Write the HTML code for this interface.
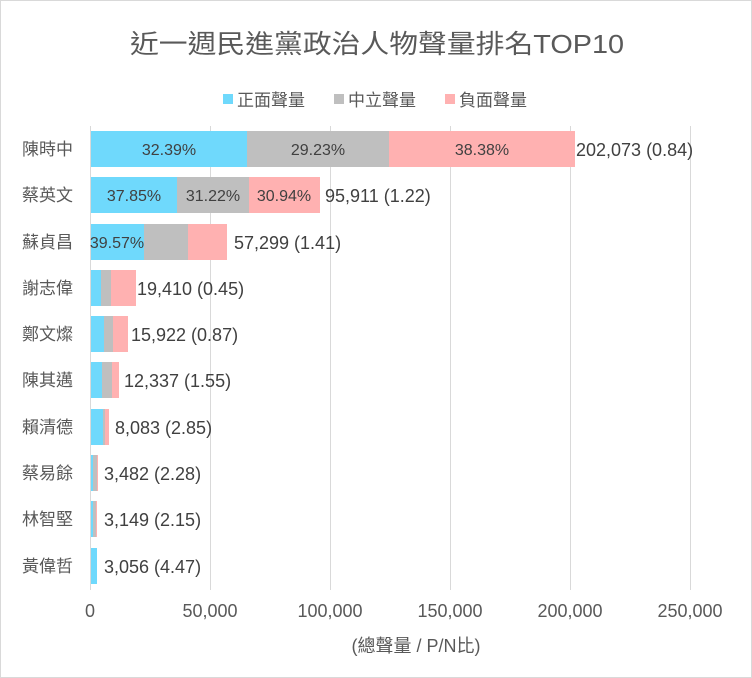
<!DOCTYPE html>
<html><head><meta charset="utf-8"><style>
html,body{margin:0;padding:0;background:#fff;}
svg{display:block;font-family:"Liberation Sans","Noto Sans CJK TC",sans-serif;}
</style></head><body>
<svg width="752" height="678" viewBox="0 0 752 678" xmlns="http://www.w3.org/2000/svg">
<rect x="0.5" y="0.5" width="751" height="677" fill="#fff" stroke="#d9d9d9"/>
<text x="377" y="53" text-anchor="middle" font-size="26" fill="#595959" textLength="494" lengthAdjust="spacingAndGlyphs">近一週民進黨政治人物聲量排名TOP10</text>
<g font-size="17" fill="#595959">
<rect x="223" y="94" width="10" height="10" fill="#6fd9fc"/><text x="237" y="106">正面聲量</text>
<rect x="334" y="94" width="10" height="10" fill="#bfbfbf"/><text x="348" y="106">中立聲量</text>
<rect x="445" y="94" width="10" height="10" fill="#ffb1b1"/><text x="459" y="106">負面聲量</text>
</g>
<g stroke="#d9d9d9" stroke-width="1">
<line x1="210.5" y1="126" x2="210.5" y2="590"/>
<line x1="330.5" y1="126" x2="330.5" y2="590"/>
<line x1="450.5" y1="126" x2="450.5" y2="590"/>
<line x1="570.5" y1="126" x2="570.5" y2="590"/>
<line x1="690.5" y1="126" x2="690.5" y2="590"/>
<line x1="90.5" y1="126" x2="90.5" y2="590"/>
</g>
<g>
<rect x="91" y="131" width="156" height="36" fill="#6fd9fc"/>
<rect x="247" y="131" width="142" height="36" fill="#bfbfbf"/>
<rect x="389" y="131" width="186" height="36" fill="#ffb1b1"/>
<rect x="91" y="177" width="86" height="36" fill="#6fd9fc"/>
<rect x="177" y="177" width="72" height="36" fill="#bfbfbf"/>
<rect x="249" y="177" width="71" height="36" fill="#ffb1b1"/>
<rect x="91" y="224" width="53" height="36" fill="#6fd9fc"/>
<rect x="144" y="224" width="44" height="36" fill="#bfbfbf"/>
<rect x="188" y="224" width="39" height="36" fill="#ffb1b1"/>
<rect x="91" y="270" width="10" height="36" fill="#6fd9fc"/>
<rect x="101" y="270" width="10" height="36" fill="#bfbfbf"/>
<rect x="111" y="270" width="25" height="36" fill="#ffb1b1"/>
<rect x="91" y="316" width="13" height="36" fill="#6fd9fc"/>
<rect x="104" y="316" width="9" height="36" fill="#bfbfbf"/>
<rect x="113" y="316" width="15" height="36" fill="#ffb1b1"/>
<rect x="91" y="362" width="11" height="36" fill="#6fd9fc"/>
<rect x="102" y="362" width="10" height="36" fill="#bfbfbf"/>
<rect x="112" y="362" width="7" height="36" fill="#ffb1b1"/>
<rect x="91" y="409" width="12" height="36" fill="#6fd9fc"/>
<rect x="103" y="409" width="2" height="36" fill="#bfbfbf"/>
<rect x="105" y="409" width="4" height="36" fill="#ffb1b1"/>
<rect x="91" y="455" width="2" height="36" fill="#6fd9fc"/>
<rect x="93" y="455" width="4" height="36" fill="#bfbfbf"/>
<rect x="97" y="455" width="1" height="36" fill="#ffb1b1"/>
<rect x="91" y="501" width="2" height="36" fill="#6fd9fc"/>
<rect x="93" y="501" width="3" height="36" fill="#bfbfbf"/>
<rect x="96" y="501" width="1" height="36" fill="#ffb1b1"/>
<rect x="91" y="548" width="6" height="36" fill="#6fd9fc"/>
</g>
<g font-size="16" fill="#404040" text-anchor="middle">
<text x="169" y="155">32.39%</text>
<text x="318" y="155">29.23%</text>
<text x="482" y="155">38.38%</text>
<text x="134" y="201">37.85%</text>
<text x="213" y="201">31.22%</text>
<text x="284" y="201">30.94%</text>
<text x="117" y="248">39.57%</text>
</g>
<g font-size="18" fill="#404040">
<text x="576" y="156">202,073 (0.84)</text>
<text x="325" y="202">95,911 (1.22)</text>
<text x="234" y="249">57,299 (1.41)</text>
<text x="137" y="295">19,410 (0.45)</text>
<text x="131" y="341">15,922 (0.87)</text>
<text x="124" y="387">12,337 (1.55)</text>
<text x="115" y="434">8,083 (2.85)</text>
<text x="104" y="480">3,482 (2.28)</text>
<text x="104" y="526">3,149 (2.15)</text>
<text x="104" y="573">3,056 (4.47)</text>
</g>
<g font-size="17" fill="#595959" text-anchor="end">
<text x="73" y="155">陳時中</text>
<text x="73" y="201">蔡英文</text>
<text x="73" y="248">蘇貞昌</text>
<text x="73" y="294">謝志偉</text>
<text x="73" y="340">鄭文燦</text>
<text x="73" y="386">陳其邁</text>
<text x="73" y="433">賴清德</text>
<text x="73" y="479">蔡易餘</text>
<text x="73" y="525">林智堅</text>
<text x="73" y="572">黃偉哲</text>
</g>
<g font-size="18" fill="#595959" text-anchor="middle">
<text x="90" y="617">0</text>
<text x="210" y="617">50,000</text>
<text x="330" y="617">100,000</text>
<text x="450" y="617">150,000</text>
<text x="570" y="617">200,000</text>
<text x="690" y="617">250,000</text>
<text x="416" y="652">(總聲量 / P/N比)</text>
</g>
</svg>
</body></html>
